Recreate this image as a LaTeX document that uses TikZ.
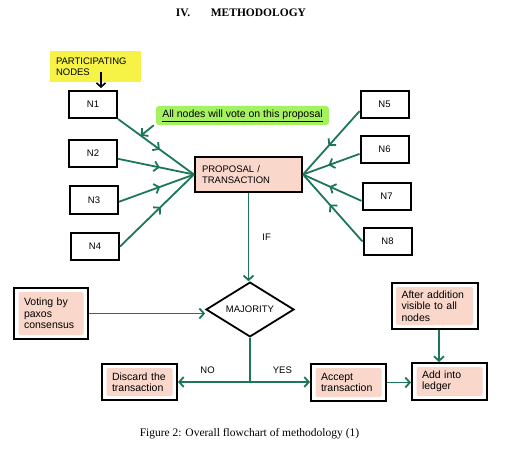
\documentclass[tikz,border=0pt]{standalone}
\usepackage{fontspec}
\setmainfont{Liberation Serif}
\setsansfont{Liberation Sans}
\usetikzlibrary{shapes.geometric, positioning, arrows.meta, calc, decorations.markings}

\definecolor{flowGreen}{RGB}{28,118,88}
\definecolor{stepPink}{RGB}{250,215,203}
\definecolor{tagYellow}{RGB}{246,243,70}
\definecolor{noteGreen}{RGB}{164,242,96}

\newcommand{\capsFont}{\sffamily\fontsize{9.5}{11}\selectfont}
\newcommand{\textFont}{\sffamily\fontsize{10.5}{11.5}\selectfont}
\newcommand{\titleFont}{\rmfamily\bfseries\fontsize{11.5}{13}\selectfont}
\newcommand{\captionFont}{\rmfamily\fontsize{11.5}{13}\selectfont}

\tikzset{peerNode/.style={shape=rectangle, draw, line width=2pt, fill=white, minimum width=48pt, minimum height=27pt, inner sep=0pt, font=\capsFont}}
\tikzset{proposalNode/.style={shape=rectangle, draw, line width=2pt, fill=stepPink, align=left, text width=93pt, inner xsep=7pt, minimum height=35pt, font=\capsFont}}
\tikzset{stepNode/.style={shape=rectangle, draw, line width=2pt, fill=white, align=left, inner xsep=10pt, inner ysep=2pt, font=\textFont,
  path picture={\fill[stepPink, rounded corners=2pt] ([shift={(4.5pt,-4pt)}]path picture bounding box.north west) rectangle ([shift={(-4.5pt,4pt)}]path picture bounding box.south east);}}}
\tikzset{decisionNode/.style={shape=diamond, draw, line width=1.8pt, fill=white, minimum width=88pt, minimum height=35pt, inner sep=0pt, font=\capsFont}}
\tikzset{tagNode/.style={shape=rectangle, fill=tagYellow, align=left, text width=79pt, inner xsep=6pt, minimum height=31pt, font=\capsFont}}
\tikzset{noteNode/.style={shape=rectangle, rounded corners=3pt, fill=noteGreen, minimum width=173pt, minimum height=19pt, inner sep=1pt, font=\textFont}}
\tikzset{annotation/.style={shape=rectangle, draw=none, inner sep=1pt, text=black, font=\capsFont}}
\tikzset{voteLine/.style={color=flowGreen, line width=1.8pt, postaction={decorate},
  decoration={markings, mark=at position 0.55 with {\arrow{Straight Barb[length=4.5pt,width=10pt]}}}}}
\tikzset{flowArrow/.style={color=flowGreen, line width=1.8pt, -{Straight Barb[length=4.5pt,width=10pt]}}}
\tikzset{tagArrow/.style={color=black, line width=1.6pt, -{Straight Barb[length=4pt,width=9pt]}, shorten >=2pt}}

\begin{document}
\begin{tikzpicture}[x=1pt, y=-1pt]

\useasboundingbox (0,0) rectangle (527,449);

\node[annotation, font=\titleFont] (title) at (241,13) {IV.\hspace{1.8em}METHODOLOGY};

% participating nodes
\node[tagNode] (tag) at (95.5,67) {PARTICIPATING\\NODES};
\node[peerNode] (n1) at (93,104.5) {N1};
\node[peerNode] (n2) at (93,153.5) {N2};
\node[peerNode] (n3) at (94,200) {N3};
\node[peerNode] (n4) at (95,246.5) {N4};
\node[peerNode] (n5) at (384.5,104.5) {N5};
\node[peerNode] (n6) at (384.5,149.5) {N6};
\node[peerNode] (n7) at (386.5,196.5) {N7};
\node[peerNode] (n8) at (387.5,241.5) {N8};

\coordinate (tagTail) at (101,72);
\draw[tagArrow] (tagTail) -- (tagTail |- n1.north);

% proposal
\node[proposalNode] (prop) at (248.5,174.5) {PROPOSAL /\\TRANSACTION};
\node[noteNode] (note) at (242.5,115.5) {\underline{All nodes will vote on this proposal}};

\draw[voteLine] (n1.south east) -- (prop.west);
\draw[voteLine] (n2.348) -- (prop.west);
\draw[voteLine] (n3.356) -- (prop.west);
\draw[voteLine] (n4.east) -- (prop.west);
\draw[voteLine] (n5.195) -- (prop.east);
\draw[voteLine] (n6.190) -- (prop.east);
\draw[voteLine] (n7.190) -- (prop.east);
\draw[voteLine] (n8.west) -- (prop.east);

\coordinate (votePoint) at ($(n1.south east)!0.3!(prop.west)$);
\draw[flowArrow] ([xshift=-2pt]note.south west) -- (votePoint);

% decision
\node[decisionNode] (maj) at (250,309.5) {MAJORITY};
\draw[flowArrow] (prop.south) -- (prop.south |- maj.north) node[annotation, pos=0.5, right=12pt] {IF};

\node[stepNode, text width=54pt, minimum height=51pt] (vote) at (51,313.5) {Voting by\\paxos\\consensus};
\draw[flowArrow] (vote.east) -- (vote.east -| maj.west);

% outcomes
\node[stepNode, text width=55pt, minimum height=36pt] (discard) at (139.5,382) {Discard the\\transaction};
\node[stepNode, text width=55pt, minimum height=37pt] (accept) at (348.5,382.5) {Accept\\transaction};
\node[stepNode, text width=55pt, minimum height=37pt] (ledger) at (449.5,381.5) {Add into\\ledger};
\node[stepNode, text width=66pt, minimum height=46pt] (after) at (434.5,306) {After addition\\visible to all\\nodes};

\coordinate (split) at (maj.south |- discard.east);
\draw[color=flowGreen, line width=1.8pt] (maj.south) -- (split);
\draw[flowArrow] (split) -- (discard.east) node[annotation, pos=0.59, above=7pt] {NO};
\draw[flowArrow] (split) -- (split -| accept.west) node[annotation, pos=0.54, above=7pt] {YES};
\draw[flowArrow] (accept.east) -- (accept.east -| ledger.west);
\draw[flowArrow] ([xshift=4.5pt]after.south) -- ([xshift=4.5pt]after.south |- ledger.north);

\node[annotation, font=\captionFont] (caption) at (249.5,434) {Figure 2: Overall flowchart of methodology (1)};

\end{tikzpicture}
\end{document}
